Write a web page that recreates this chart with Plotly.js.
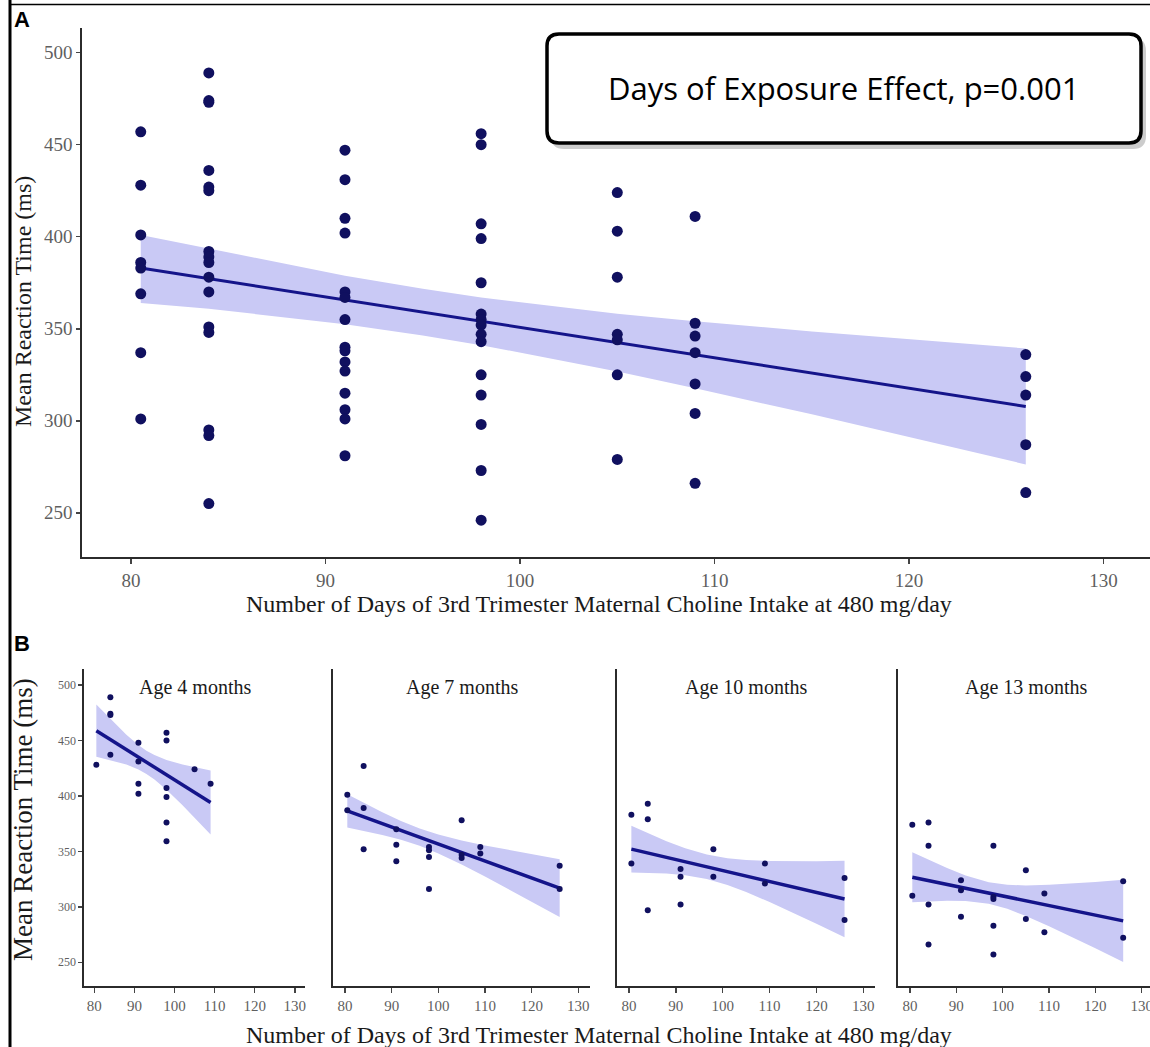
<!DOCTYPE html>
<html>
<head>
<meta charset="utf-8">
<script src="https://cdn.plot.ly/plotly-3.0.1.min.js"></script>
<style>
  html, body { margin: 0; padding: 0; background: #ffffff; overflow: hidden; }
  #chart { width: 1166px; height: 1047px; }
</style>
</head>
<body>
<div id="chart"></div>
<script>
// ---------- Panel A: all ages pooled ----------
const daysA = [
  80.5, 80.5, 80.5, 80.5, 80.5, 80.5, 80.5, 80.5,
  84, 84, 84, 84, 84, 84, 84, 84, 84, 84, 84, 84, 84, 84, 84, 84,
  91, 91, 91, 91, 91, 91, 91, 91, 91, 91, 91, 91, 91, 91, 91,
  98, 98, 98, 98, 98, 98, 98, 98, 98, 98, 98, 98, 98, 98, 98,
  105, 105, 105, 105, 105, 105, 105,
  109, 109, 109, 109, 109, 109, 109,
  126, 126, 126, 126, 126
];
const rtA = [
  457, 428, 401, 386, 383, 369, 337, 301,
  489, 474, 473, 436, 427, 425, 392, 389, 386, 378, 370, 351, 348, 295, 292, 255,
  447, 431, 410, 402, 370, 367, 355, 340, 338, 332, 327, 315, 306, 301, 281,
  456, 450, 407, 399, 375, 358, 355, 352, 347, 343, 325, 314, 298, 273, 246,
  424, 403, 378, 347, 344, 325, 279,
  411, 353, 346, 337, 320, 304, 266,
  336, 324, 314, 287, 261
];
// fitted line and 95% band, panel A
const fitDaysA = [80.5, 84, 91, 95, 98, 105, 109, 115, 120, 126];
const fitA     = [383.0, 377.2, 365.6, 359.0, 354.1, 342.5, 335.9, 326.0, 317.7, 307.8];
const ciHighA  = [401.0, 393.5, 378.8, 371.7, 367.0, 358.2, 354.1, 348.5, 344.2, 339.3];
const ciLowA   = [364.0, 360.9, 352.4, 346.3, 341.1, 326.8, 317.7, 303.5, 291.2, 276.3];

// ---------- Panel B: by age ----------
const ageLabels = ["Age 4 months", "Age 7 months", "Age 10 months", "Age 13 months"];

const days4 = [80.5, 84, 84, 84, 84, 91, 91, 91, 91, 98, 98, 98, 98, 98, 98, 105, 109];
const rt4   = [428, 489, 474, 473, 437, 448, 431, 411, 402, 457, 450, 407, 399, 376, 359, 424, 411];
const fitDays4 = [80.5, 84, 88, 91, 93, 95, 98, 102, 105, 109];
const fit4     = [458.8, 450.8, 441.7, 434.9, 430.3, 425.8, 419.0, 409.9, 403.1, 394.0];
const ciHigh4  = [482.3, 469.2, 455.1, 445.9, 440.8, 436.8, 432.4, 428.3, 425.8, 422.9];
const ciLow4   = [435.3, 432.4, 428.3, 423.9, 419.8, 414.8, 405.6, 391.5, 380.4, 365.1];

const days7 = [80.5, 80.5, 84, 84, 84, 91, 91, 91, 98, 98, 98, 98, 105, 105, 105, 109, 109, 126, 126];
const rt7   = [401, 387, 427, 389, 352, 370, 356, 341, 354, 351, 345, 316, 378, 347, 344, 354, 348, 337, 316];
const fitDays7 = [80.5, 84, 88, 92, 96, 100, 105, 110, 115, 120, 126];
const fit7     = [386.5, 381.1, 375.0, 368.9, 362.8, 356.6, 349.0, 341.3, 333.7, 326.0, 316.8];
const ciHigh7  = [401.5, 393.7, 385.2, 377.4, 370.6, 365.1, 359.8, 355.3, 351.2, 347.3, 342.8];
const ciLow7   = [371.5, 368.5, 364.8, 360.4, 355.0, 348.1, 338.2, 327.3, 316.2, 304.7, 290.8];

const days10 = [80.5, 80.5, 84, 84, 84, 91, 91, 91, 98, 98, 109, 109, 126, 126];
const rt10   = [383, 339, 393, 379, 297, 334, 327, 302, 352, 327, 339, 321, 326, 288];
const fitDays10 = [80.5, 84, 88, 92, 96.6, 101, 105, 110, 115, 120, 126];
const fit10     = [352.0, 348.5, 344.6, 340.6, 336.1, 331.7, 327.8, 322.8, 317.9, 312.9, 307.0];
const ciHigh10  = [373.0, 366.3, 359.1, 352.7, 347.1, 343.7, 342.2, 341.3, 341.1, 341.1, 341.5];
const ciLow10   = [331.0, 330.7, 330.1, 328.5, 325.1, 319.7, 313.4, 304.3, 294.7, 284.7, 272.5];

const days13 = [80.5, 80.5, 84, 84, 84, 84, 91, 91, 91, 98, 98, 98, 98, 98, 105, 105, 109, 109, 126, 126];
const rt13   = [374, 310, 376, 355, 302, 266, 324, 315, 291, 355, 309, 307, 283, 257, 333, 289, 312, 277, 323, 272];
const fitDays13 = [80.5, 84, 88, 92, 97, 101, 105, 110, 115, 120, 126];
const fit13     = [326.7, 323.7, 320.2, 316.7, 312.4, 309.0, 305.5, 301.2, 296.8, 292.5, 287.3];
const ciHigh13  = [349.2, 342.4, 334.9, 328.2, 322.1, 319.8, 319.3, 319.9, 321.0, 322.4, 324.3];
const ciLow13   = [304.2, 305.0, 305.5, 305.2, 302.7, 298.2, 291.7, 282.5, 272.6, 262.6, 250.3];

const xTicks = [80, 90, 100, 110, 120, 130];
const yTicks = [250, 300, 350, 400, 450, 500];
const xTitle = "Number of Days of 3rd Trimester Maternal Choline Intake at 480 mg/day";
const yTitle = "Mean Reaction Time (ms)";
const boxText = "Days of Exposure Effect, p=0.001";

// ---------- styling ----------
// the figure runs a little past the right edge of the window, like a cropped figure
const W = 1166, H = 1047;
const SERIF = "Liberation Serif, Times New Roman, serif";
const BAND = "#c9c9f5";
const LINE = "#14148a";
const DOT = "#10105f";

function px(x) { return x / W; }
function py(y) { return 1 - y / H; }

function band(xs, lo, hi, xa, ya) {
  return {
    x: xs.concat(xs.slice().reverse()),
    y: hi.concat(lo.slice().reverse()),
    xaxis: xa, yaxis: ya,
    type: "scatter", mode: "lines", fill: "toself",
    fillcolor: BAND, line: { width: 0, color: BAND },
    hoverinfo: "skip"
  };
}
function fitLine(xs, ys, xa, ya, w) {
  return { x: xs, y: ys, xaxis: xa, yaxis: ya, type: "scatter", mode: "lines",
           line: { color: LINE, width: w } };
}
function dots(xs, ys, xa, ya, size) {
  return { x: xs, y: ys, xaxis: xa, yaxis: ya, type: "scatter", mode: "markers",
           marker: { color: DOT, size: size } };
}

const traces = [
  band(fitDaysA, ciLowA, ciHighA, "x", "y"),
  fitLine(fitDaysA, fitA, "x", "y", 3),
  dots(daysA, rtA, "x", "y", 11),

  band(fitDays4, ciLow4, ciHigh4, "x2", "y2"),
  fitLine(fitDays4, fit4, "x2", "y2", 3.5),
  dots(days4, rt4, "x2", "y2", 6),

  band(fitDays7, ciLow7, ciHigh7, "x3", "y3"),
  fitLine(fitDays7, fit7, "x3", "y3", 3.5),
  dots(days7, rt7, "x3", "y3", 6),

  band(fitDays10, ciLow10, ciHigh10, "x4", "y4"),
  fitLine(fitDays10, fit10, "x4", "y4", 3.5),
  dots(days10, rt10, "x4", "y4", 6),

  band(fitDays13, ciLow13, ciHigh13, "x5", "y5"),
  fitLine(fitDays13, fit13, "x5", "y5", 3.5),
  dots(days13, rt13, "x5", "y5", 6)
];

function xAxis(domain, anchor, fontSize) {
  return {
    domain: domain, range: [77.5, 132.5], anchor: anchor,
    tickvals: xTicks, ticks: "outside", ticklen: 5, tickwidth: 1.5, tickcolor: "#444",
    showline: true, linecolor: "#2b2b2b", linewidth: 2,
    showgrid: false, zeroline: false, automargin: false,
    tickfont: { family: SERIF, size: fontSize, color: "#5f5f5f" }
  };
}
function yAxis(domain, range, anchor, fontSize, showLabels) {
  return {
    domain: domain, range: range, anchor: anchor,
    tickvals: yTicks, ticks: showLabels ? "outside" : "", ticklen: 4, tickwidth: 1.5, tickcolor: "#444",
    showticklabels: showLabels,
    showline: true, linecolor: "#2b2b2b", linewidth: 2,
    showgrid: false, zeroline: false, automargin: false,
    tickfont: { family: SERIF, size: fontSize, color: "#5f5f5f" }
  };
}

const domA_y = [py(557), py(28)];
const domB_y = [py(986), py(669)];
const rangeBy = [228.6, 514.4];

// rounded box path in pixel space converted to paper coords
function roundRect(x0, y0, x1, y1, r) {
  const P = (x, y) => px(x) + "," + py(y);
  return "M " + P(x0 + r, y0) +
    " L " + P(x1 - r, y0) + " Q " + P(x1, y0) + " " + P(x1, y0 + r) +
    " L " + P(x1, y1 - r) + " Q " + P(x1, y1) + " " + P(x1 - r, y1) +
    " L " + P(x0 + r, y1) + " Q " + P(x0, y1) + " " + P(x0, y1 - r) +
    " L " + P(x0, y0 + r) + " Q " + P(x0, y0) + " " + P(x0 + r, y0) + " Z";
}

const layout = {
  width: W, height: H,
  margin: { l: 0, r: 0, t: 0, b: 0 },
  paper_bgcolor: "#ffffff", plot_bgcolor: "rgba(0,0,0,0)",
  showlegend: false,

  xaxis:  xAxis([px(82.4), px(1152.2)], "y", 19),
  yaxis:  yAxis(domA_y, [226, 513.4], "x", 19, true),

  xaxis2: xAxis([px(84.3), px(304.8)], "y2", 15),
  yaxis2: yAxis(domB_y, rangeBy, "x2", 12, true),
  xaxis3: xAxis([px(333.3), px(590)], "y3", 15),
  yaxis3: yAxis(domB_y, rangeBy, "x3", 12, false),
  xaxis4: xAxis([px(617.3), px(875)], "y4", 15),
  yaxis4: yAxis(domB_y, rangeBy, "x4", 12, false),
  xaxis5: xAxis([px(898.4), px(1153.3)], "y5", 15),
  yaxis5: yAxis(domB_y, rangeBy, "x5", 12, false),

  shapes: [
    // figure frame
    { type: "line", xref: "paper", yref: "paper", x0: px(10), x1: px(10), y0: 0, y1: 1,
      line: { color: "#000", width: 3 } },
    { type: "line", xref: "paper", yref: "paper", x0: px(10), x1: 1, y0: py(4.5), y1: py(4.5),
      line: { color: "#000", width: 1.5 } },
    // callout box shadow and box
    { type: "path", xref: "paper", yref: "paper", path: roundRect(551, 38, 1146, 149, 13),
      fillcolor: "rgba(0,0,0,0.2)", line: { width: 0 } },
    { type: "path", xref: "paper", yref: "paper", path: roundRect(547, 34, 1141, 143, 12),
      fillcolor: "#ffffff", line: { color: "#000", width: 3.5 } }
  ],

  annotations: [
    { text: "<b>A</b>", xref: "paper", yref: "paper", x: px(22), y: py(19),
      showarrow: false, xanchor: "center", yanchor: "middle",
      font: { family: "Liberation Sans, Arial, sans-serif", size: 22, color: "#000" } },
    { text: "<b>B</b>", xref: "paper", yref: "paper", x: px(22), y: py(643),
      showarrow: false, xanchor: "center", yanchor: "middle",
      font: { family: "Liberation Sans, Arial, sans-serif", size: 22, color: "#000" } },

    { text: boxText, xref: "paper", yref: "paper", x: px(843), y: py(88),
      showarrow: false, xanchor: "center", yanchor: "middle",
      font: { family: "Open Sans, sans-serif", size: 31, color: "#000" } },

    { text: xTitle, xref: "paper", yref: "paper", x: px(599), y: py(604),
      showarrow: false, xanchor: "center", yanchor: "middle",
      font: { family: SERIF, size: 24, color: "#1a1a1a" } },
    { text: yTitle, xref: "paper", yref: "paper", x: px(23), y: py(302), textangle: -90,
      showarrow: false, xanchor: "center", yanchor: "middle",
      font: { family: SERIF, size: 24, color: "#1a1a1a" } },

    { text: xTitle, xref: "paper", yref: "paper", x: px(599), y: py(1035),
      showarrow: false, xanchor: "center", yanchor: "middle",
      font: { family: SERIF, size: 24, color: "#1a1a1a" } },
    { text: yTitle, xref: "paper", yref: "paper", x: px(23), y: py(820), textangle: -90,
      showarrow: false, xanchor: "center", yanchor: "middle",
      font: { family: SERIF, size: 27, color: "#1a1a1a" } }
  ]
};

// facet strip labels, centred on each panel
["x2", "x3", "x4", "x5"].forEach((xa, i) => {
  layout.annotations.push({
    text: ageLabels[i], xref: xa, yref: "paper", x: 105, y: py(687),
    showarrow: false, xanchor: "center", yanchor: "middle",
    font: { family: SERIF, size: 20, color: "#1a1a1a" }
  });
});

Plotly.newPlot("chart", traces, layout, { displayModeBar: false, staticPlot: true });
</script>
</body>
</html>
